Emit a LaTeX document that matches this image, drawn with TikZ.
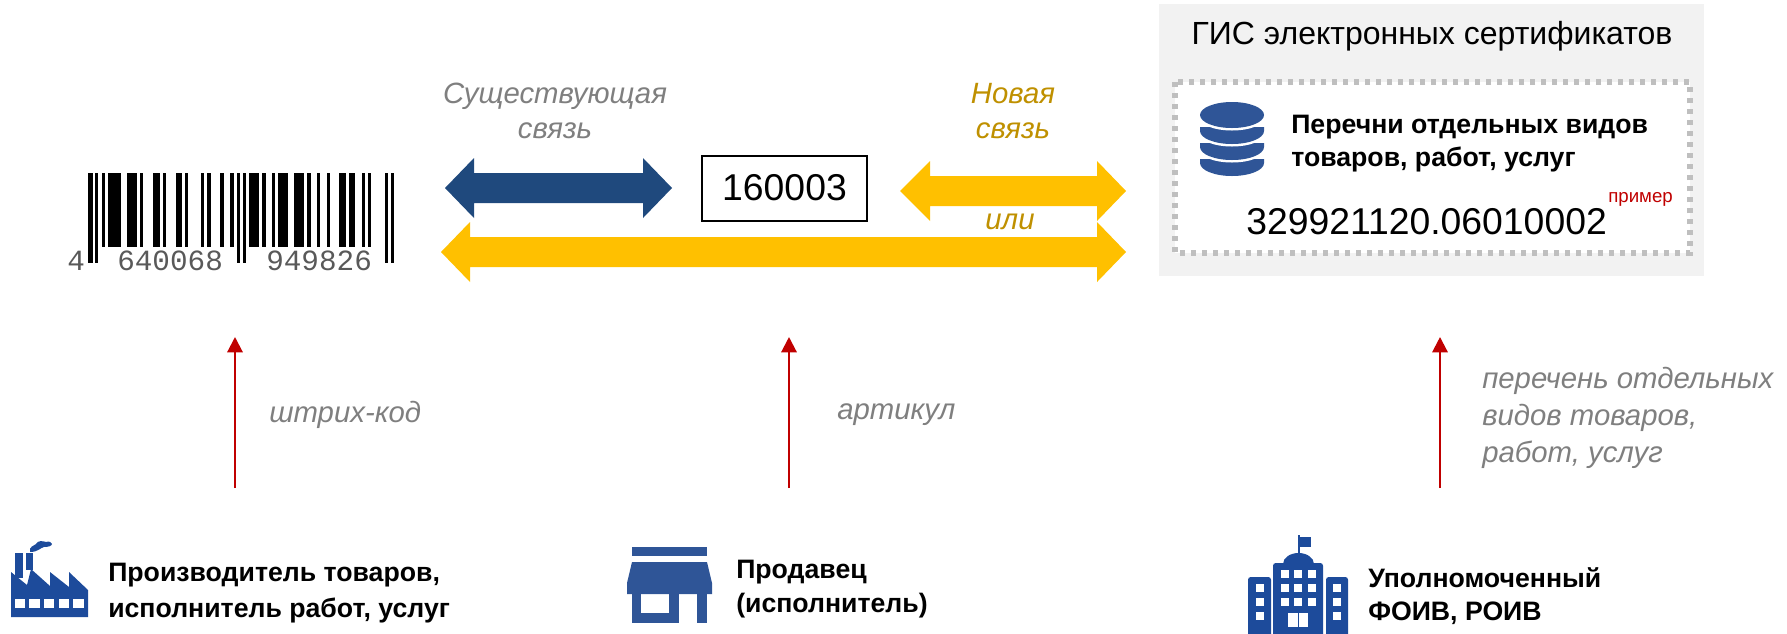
\documentclass[tikz,border=0pt]{standalone}
\usepackage{fontspec}
\setmainfont{Liberation Sans}
\newfontfamily\barfont{Liberation Mono}
\usetikzlibrary{arrows.meta}
\definecolor{dbblue}{HTML}{2F5597}
\definecolor{iconblue}{HTML}{1D4B9B}
\definecolor{arrowblue}{HTML}{1F497D}
\definecolor{arrowyellow}{HTML}{FFC000}
\definecolor{goldtext}{HTML}{BF9000}
\definecolor{greytext}{HTML}{7F7F7F}
\definecolor{redline}{HTML}{C00000}
\definecolor{panelgrey}{HTML}{F2F2F2}
\definecolor{dotgrey}{HTML}{BFBFBF}
\tikzset{
  blockblue/.style={fill=arrowblue},
  blockyellow/.style={fill=arrowyellow},
  redarrow/.style={draw=redline,line width=1.6pt,-{Triangle[width=11.5pt,length=11.5pt]}},
  greylabel/.style={text=greytext,font=\fontsize{22}{26}\selectfont\itshape,align=center,inner sep=0pt},
  greyleft/.style={greylabel,align=left,anchor=west},
  goldlabel/.style={text=goldtext,font=\fontsize{22}{26}\selectfont\itshape,align=center,inner sep=0pt},
  boldlabel/.style={font=\fontsize{20}{25}\selectfont\bfseries,align=left,anchor=west,inner sep=0pt},
  bardigits/.style={text=black!65,font=\fontsize{22}{22}\barfont,inner sep=0pt,anchor=base west},
  bar/.style={fill=black},
}
\begin{document}
\begin{tikzpicture}[x=0.75pt,y=-0.75pt]
\useasboundingbox (0,0) rectangle (1787,633);
% barcode
\foreach \a/\b in {155/165,175/213,232/262,270/280,310/330,338/348,377/397,405/415,453/463,472/483,511/522,541/551,598/628,637/647,665/675,685/715,733/762,772/782,801/811,830/840,868/888,897/916,936/946,954/964}
  \fill[bar] ({50+\a/3},173) rectangle ({50+\b/3},247);
\foreach \a/\b in {115/128,135/145,560/570,578/588,1005/1015,1022/1033}
  \fill[bar] ({50+\a/3},173) rectangle ({50+\b/3},263);
\node[bardigits] (d1) at (67,270) {4};
\node[bardigits] (d2) at (117,270) {640068};
\node[bardigits] (d3) at (266,270) {949826};
% block arrows
\fill[blockblue] (445,188) -- (474,158) -- (474,173) -- (643,173) -- (643,158) -- (672,188) -- (643,218) -- (643,203) -- (474,203) -- (474,218) -- cycle;
\fill[blockyellow] (900,191) -- (930,161) -- (930,176) -- (1097,176) -- (1097,161) -- (1126,191) -- (1097,221) -- (1097,206) -- (930,206) -- (930,221) -- cycle;
\fill[blockyellow] (441,252) -- (470,222) -- (470,237) -- (1097,237) -- (1097,222) -- (1126,252) -- (1097,282) -- (1097,267) -- (470,267) -- (470,282) -- cycle;
\node[draw=black,line width=1.5pt,minimum width=123.8pt,minimum height=48.75pt,inner sep=0pt,font=\fontsize{28}{30}\selectfont] (code) at (784.5,188) {160003};
\node[greylabel] (exist) at (555,111) {Существующая\\связь};
\node[goldlabel] (newl) at (1013,111) {Новая\\связь};
\node[goldlabel,font=\fontsize{22}{24}\selectfont\itshape] (ili) at (1010,222) {или};
% panel
\fill[panelgrey] (1159,4) rectangle (1704,276);
\node[font=\fontsize{24}{26}\selectfont,inner sep=0pt] (gis) at (1432,36) {ГИС электронных сертификатов};
\draw[dotgrey,fill=white,line width=4pt,dash pattern=on 4pt off 4.25pt] (1175,82) rectangle (1690,253);
% database icon
\foreach \b in {176,160,144}{
  \fill[dbblue] (1200,\b-17) -- (1200,\b-13) arc[start angle=180,end angle=0,x radius=32,y radius=13] -- (1264,\b-17) -- cycle;
  \filldraw[draw=white,line width=3.75pt,fill=white] (1200,\b-29) -- (1200,\b-29) arc[start angle=180,end angle=0,x radius=32,y radius=13] -- (1264,\b-40) -- (1200,\b-40) -- cycle;
}
\fill[dbblue] (1232,115) ellipse [x radius=32,y radius=13];
\node[boldlabel] (lists) at (1291,143.5) {Перечни отдельных видов\\товаров, работ, услуг};
\node[font=\fontsize{28}{30}\selectfont,inner sep=0pt,anchor=base west] (num) at (1246,234) {329921120.06010002};
\node[font=\fontsize{14}{16}\selectfont,text=redline,inner sep=0pt,anchor=base west] (ex) at (1608,202) {пример};
% red connectors
\coordinate (s1) at (235,488); \coordinate (t1) at (235,337);
\coordinate (s2) at (789,488); \coordinate (t2) at (789,337);
\coordinate (s3) at (1440,488); \coordinate (t3) at (1440,337);
\draw[redarrow] (s1) -- (t1);
\draw[redarrow] (s2) -- (t2);
\draw[redarrow] (s3) -- (t3);
\node[greyleft] (l1) at (269,415) {штрих-код};
\node[greyleft] (l2) at (837,415) {артикул};
\node[greyleft,font=\fontsize{22}{27.5}\selectfont\itshape] (l3) at (1482,418) {перечень отдельных\\видов товаров,\\работ, услуг};
% factory icon
\fill[iconblue] (15,553) rectangle (23,578);
\fill[iconblue] (26,553) rectangle (33,570);
\fill[iconblue] (11,617) -- (11,572) -- (27,585) -- (31,569) -- (50,586) -- (50,572) -- (69,587) -- (69,572) -- (88,590) -- (88,617) -- cycle;
\foreach \a/\b in {15/25,29.3/40,44.3/54.3,59/69.3,73.3/84}
  \fill[white] (\a,599.3) rectangle (\b,608.3);
\fill[iconblue] (30,552) .. controls (29,546) and (34,546) .. (36,544) .. controls (38,540) and (43,541) .. (46,542) .. controls (49,541) and (52,542) .. (52,544) .. controls (52,546) and (48,547) .. (44,547) .. controls (40,548) and (38,552) .. (30,552) -- cycle;
\node[boldlabel,font=\fontsize{20}{26.5}\selectfont\bfseries] (maker) at (108,593) {Производитель товаров,\\исполнитель работ, услуг};
% shop icon
\fill[dbblue] (632,547) rectangle (707,556);
\fill[dbblue] (632,562) -- (707,562) -- (712,583) -- (712,594) -- (627,594) -- (627,583) -- cycle;
\fill[dbblue] (632,594) rectangle (641,623);
\fill[dbblue] (641,613) rectangle (679,623);
\fill[dbblue] (669,594) rectangle (679,613);
\fill[dbblue] (697,594) rectangle (707,623);
\node[boldlabel] (seller) at (736,589) {Продавец\\(исполнитель)};
% government building icon
\fill[iconblue] (1298,535) rectangle (1300,556);
\fill[iconblue] (1298,537) rectangle (1311,547);
\fill[iconblue] (1283,564) arc[start angle=180,end angle=360,x radius=15.5,y radius=11] -- cycle;
\fill[iconblue,rounded corners=2pt] (1273,640) -- (1273,563) -- (1323,563) -- (1323,640) -- cycle;
\fill[iconblue,rounded corners=2pt] (1248,640) -- (1248,577) -- (1271,577) -- (1271,640) -- cycle;
\fill[iconblue,rounded corners=2pt] (1326,640) -- (1326,577) -- (1348,577) -- (1348,640) -- cycle;
\foreach \x in {1281,1294,1308} \foreach \y in {570,584,598}
  \fill[white] (\x,\y) rectangle ++(7.5,7.5);
\foreach \x in {1256,1333} \foreach \y in {584,598,612}
  \fill[white] (\x,\y) rectangle ++(7.5,7.5);
\fill[white] (1288,613) rectangle (1298,627);
\fill[white] (1299,613) rectangle (1308,627);
\node[boldlabel] (auth) at (1368,596) {Уполномоченный\\ФОИВ, РОИВ};
\end{tikzpicture}
\end{document}
